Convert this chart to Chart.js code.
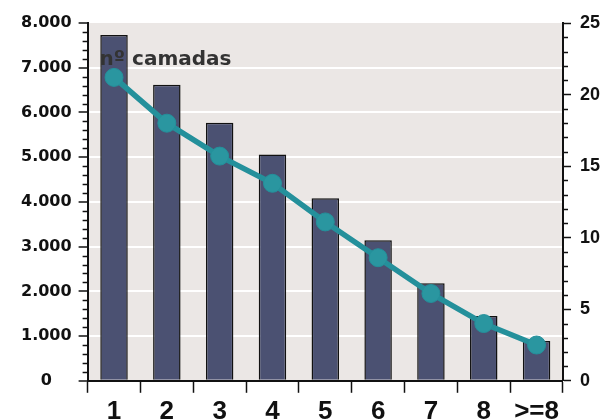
<!DOCTYPE html>
<html>
<head>
<meta charset="utf-8">
<script src="https://cdn.jsdelivr.net/npm/chart.js@4/dist/chart.umd.min.js"></script>
<style>
    html, body { margin: 0; padding: 0; background: #ffffff; overflow: hidden; }
    #wrap { width: 602px; height: 431px; }
</style>
</head>
<body>
<div id="wrap"><canvas id="chart"></canvas></div>
<script>
// Data
const categories = ['1', '2', '3', '4', '5', '6', '7', '8', '>=8'];
const barValues = [7730, 6620, 5770, 5060, 4080, 3140, 2180, 1450, 890];
const lineValues = [21.2, 18.0, 15.7, 13.8, 11.1, 8.6, 6.1, 4.0, 2.5];
const seriesTitle = 'nº camadas';

const arial = '"Liberation Sans", Arial, sans-serif';
const dejavu = '"DejaVu Sans", Verdana, sans-serif';

// Plot background + minor ticks + inner title
const decorPlugin = {
    id: 'decor',
    beforeDraw(chart) {
        const { ctx, chartArea } = chart;
        ctx.save();
        ctx.fillStyle = '#ebe7e5';
        ctx.fillRect(chartArea.left, chartArea.top, chartArea.right - chartArea.left, chartArea.bottom - chartArea.top);
        ctx.restore();
    },
    afterDraw(chart) {
        const { ctx, chartArea } = chart;
        const y = chart.scales.y;
        const y1 = chart.scales.y1;
        ctx.save();
        ctx.strokeStyle = '#111';
        ctx.lineWidth = 1.5;
        for (let v = 0; v <= 8000; v += 200) {
            if (v % 1000 === 0) continue;
            const py = Math.round(y.getPixelForValue(v)) + 0.5;
            ctx.beginPath();
            ctx.moveTo(chartArea.left - 5, py);
            ctx.lineTo(chartArea.left, py);
            ctx.stroke();
        }
        for (let v = 0; v <= 25; v += 1) {
            if (v % 5 === 0) continue;
            const py = Math.round(y1.getPixelForValue(v)) + 0.5;
            ctx.beginPath();
            ctx.moveTo(chartArea.right, py);
            ctx.lineTo(chartArea.right + 5, py);
            ctx.stroke();
        }
        ctx.fillStyle = '#333333';
        ctx.font = 'bold 20px ' + dejavu;
        ctx.textAlign = 'left';
        ctx.textBaseline = 'alphabetic';
        ctx.fillText(seriesTitle, chartArea.left + 12, chartArea.top + 42);
        ctx.restore();
    }
};

new Chart(document.getElementById('chart').getContext('2d'), {
    data: {
        labels: categories,
        datasets: [{
            type: 'line',
            label: seriesTitle,
            data: lineValues,
            yAxisID: 'y1',
            borderColor: '#24909b',
            backgroundColor: '#24909b',
            borderWidth: 5.5,
            pointRadius: 9,
            pointBackgroundColor: '#2a96a0',
            pointBorderColor: '#24909b',
            pointBorderWidth: 1,
            tension: 0,
            order: 0
        }, {
            type: 'bar',
            label: 'camadas',
            data: barValues,
            yAxisID: 'y',
            backgroundColor: '#4b5172',
            borderColor: '#111111',
            borderWidth: 1.5,
            borderSkipped: 'bottom',
            categoryPercentage: 1,
            barPercentage: 0.52,
            order: 1
        }]
    },
    options: {
        responsive: true,
        maintainAspectRatio: false,
        animation: false,
        layout: { padding: { top: 23, right: 2, left: 21, bottom: 0 } },
        plugins: {
            legend: { display: false },
            tooltip: { enabled: false }
        },
        scales: {
            x: {
                offset: true,
                grid: {
                    offset: true,
                    drawOnChartArea: false,
                    drawTicks: true,
                    tickLength: 12,
                    tickColor: '#111',
                    tickWidth: 1.5
                },
                border: { color: '#111', width: 2 },
                ticks: {
                    color: '#111',
                    padding: 3.5,
                    maxRotation: 0,
                    font: { family: arial, size: 26, weight: 'bold' }
                }
            },
            y: {
                position: 'left',
                min: 0,
                max: 8000,
                afterFit: s => { s.width -= 7; },
                ticks: {
                    stepSize: 1000,
                    color: '#111',
                    padding: 7,
                    crossAlign: 'center',
                    font: { family: dejavu, size: 16, weight: 'bold' },
                    callback: v => v === 0 ? '0' : (v / 1000).toFixed(3)
                },
                grid: {
                    color: ctx => ctx.tick && ctx.tick.value > 0 && ctx.tick.value < 8000 ? '#ffffff' : 'rgba(0,0,0,0)',
                    lineWidth: 2,
                    tickLength: 9,
                    tickColor: '#111',
                    tickWidth: 1.5
                },
                border: { color: '#111', width: 2 }
            },
            y1: {
                position: 'right',
                min: 0,
                max: 25,
                afterFit: s => { s.width -= 9; },
                ticks: {
                    stepSize: 5,
                    color: '#111',
                    padding: 9,
                    font: { family: arial, size: 18, weight: 'bold' }
                },
                grid: {
                    drawOnChartArea: false,
                    tickLength: 8,
                    tickColor: '#111',
                    tickWidth: 1.5
                },
                border: { color: '#111', width: 2 }
            }
        }
    },
    plugins: [decorPlugin]
});
</script>
</body>
</html>
